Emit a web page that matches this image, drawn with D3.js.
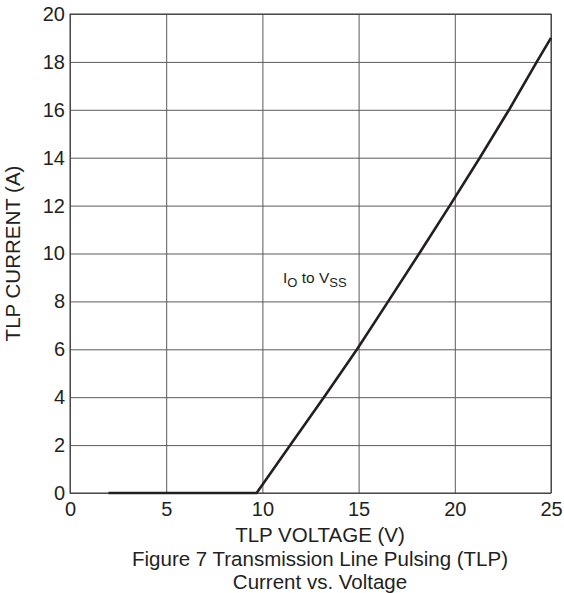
<!DOCTYPE html>
<html>
<head>
<meta charset="utf-8">
<script src="https://cdn.jsdelivr.net/npm/d3@7"></script>
<style>
  body { margin: 0; background: #fff; }
  text { font-family: Arial, "Liberation Sans", sans-serif; fill: #231f20; }
</style>
</head>
<body>
<script>
// data
let voltage = [2, 9.7, 11.45, 13.2, 14.92, 16.54, 18.15, 19.74, 21.3, 22.82, 24.26, 25];
let current = [0, 0, 2, 4, 6, 8, 10, 12, 14, 16, 18, 19.0];
let xTicks = [0, 5, 10, 15, 20, 25];
let yTicks = [0, 2, 4, 6, 8, 10, 12, 14, 16, 18, 20];

let curveData = voltage.map((v, i) => ({ x: v, y: current[i] }));

//---------------------------------------------------------------------------------------------------//

let width = 564, height = 593;
let plotLeft = 70, plotRight = 551, plotTop = 14, plotBottom = 493;
let fontFamily = 'Arial, "Liberation Sans", sans-serif';

let svg = d3.select('body').append('svg').attr('width', width).attr('height', height);

let x = d3.scaleLinear().domain([0, 25]).range([plotLeft, plotRight]);
let y = d3.scaleLinear().domain([0, 20]).range([plotBottom, plotTop]);

// x axis + vertical grid
let xAxis = d3.axisBottom(x).tickValues(xTicks).tickSize(-(plotBottom - plotTop)).tickPadding(9);
let xg = svg.append('g').attr('transform', 'translate(0,' + plotBottom + ')').call(xAxis);
xg.select('.domain').remove();
xg.selectAll('line').attr('stroke', '#5a5a5a').attr('stroke-width', 1);
xg.selectAll('text').attr('font-size', '20px').attr('font-family', fontFamily).attr('fill', '#231f20');

// y axis + horizontal grid
let yAxis = d3.axisLeft(y).tickValues(yTicks).tickSize(-(plotRight - plotLeft)).tickPadding(5);
let yg = svg.append('g').attr('transform', 'translate(' + plotLeft + ',0)').call(yAxis);
yg.select('.domain').remove();
yg.selectAll('line').attr('stroke', '#5a5a5a').attr('stroke-width', 1);
yg.selectAll('text').attr('font-size', '20px').attr('font-family', fontFamily).attr('fill', '#231f20');

// frame
svg.append('rect')
    .attr('x', plotLeft).attr('y', plotTop)
    .attr('width', plotRight - plotLeft).attr('height', plotBottom - plotTop)
    .attr('fill', 'none').attr('stroke', '#3a3a3a').attr('stroke-width', 1);

// TLP curve
let lineFunction = d3.line()
    .x(d => x(d.x))
    .y(d => y(d.y));

svg.append('path')
    .attr('d', lineFunction(curveData))
    .attr('stroke', '#231f20')
    .attr('stroke-width', 2.6)
    .attr('stroke-linejoin', 'round')
    .attr('fill', 'none');

// annotation I_O to V_SS
let note = svg.append('text').attr('x', 283).attr('y', 283).attr('font-size', '15.5px');
note.append('tspan').text('I');
note.append('tspan').attr('font-size', '13px').attr('dy', 4).text('O');
note.append('tspan').attr('dy', -4).text(' to V');
note.append('tspan').attr('font-size', '13px').attr('dy', 4).text('SS');

// titles
let cx = 320;
svg.append('text').attr('x', cx).attr('y', 541.5).attr('text-anchor', 'middle')
    .attr('font-size', '20.5px').text('TLP VOLTAGE (V)');
svg.append('text').attr('x', cx).attr('y', 565.5).attr('text-anchor', 'middle')
    .attr('font-size', '20.5px').text('Figure 7 Transmission Line Pulsing (TLP)');
svg.append('text').attr('x', cx).attr('y', 589).attr('text-anchor', 'middle')
    .attr('font-size', '20.5px').text('Current vs. Voltage');

svg.append('text')
    .attr('transform', 'translate(20,' + ((plotTop + plotBottom) / 2) + ') rotate(-90)')
    .attr('text-anchor', 'middle')
    .attr('font-size', '20.5px')
    .text('TLP CURRENT (A)');
</script>
</body>
</html>
